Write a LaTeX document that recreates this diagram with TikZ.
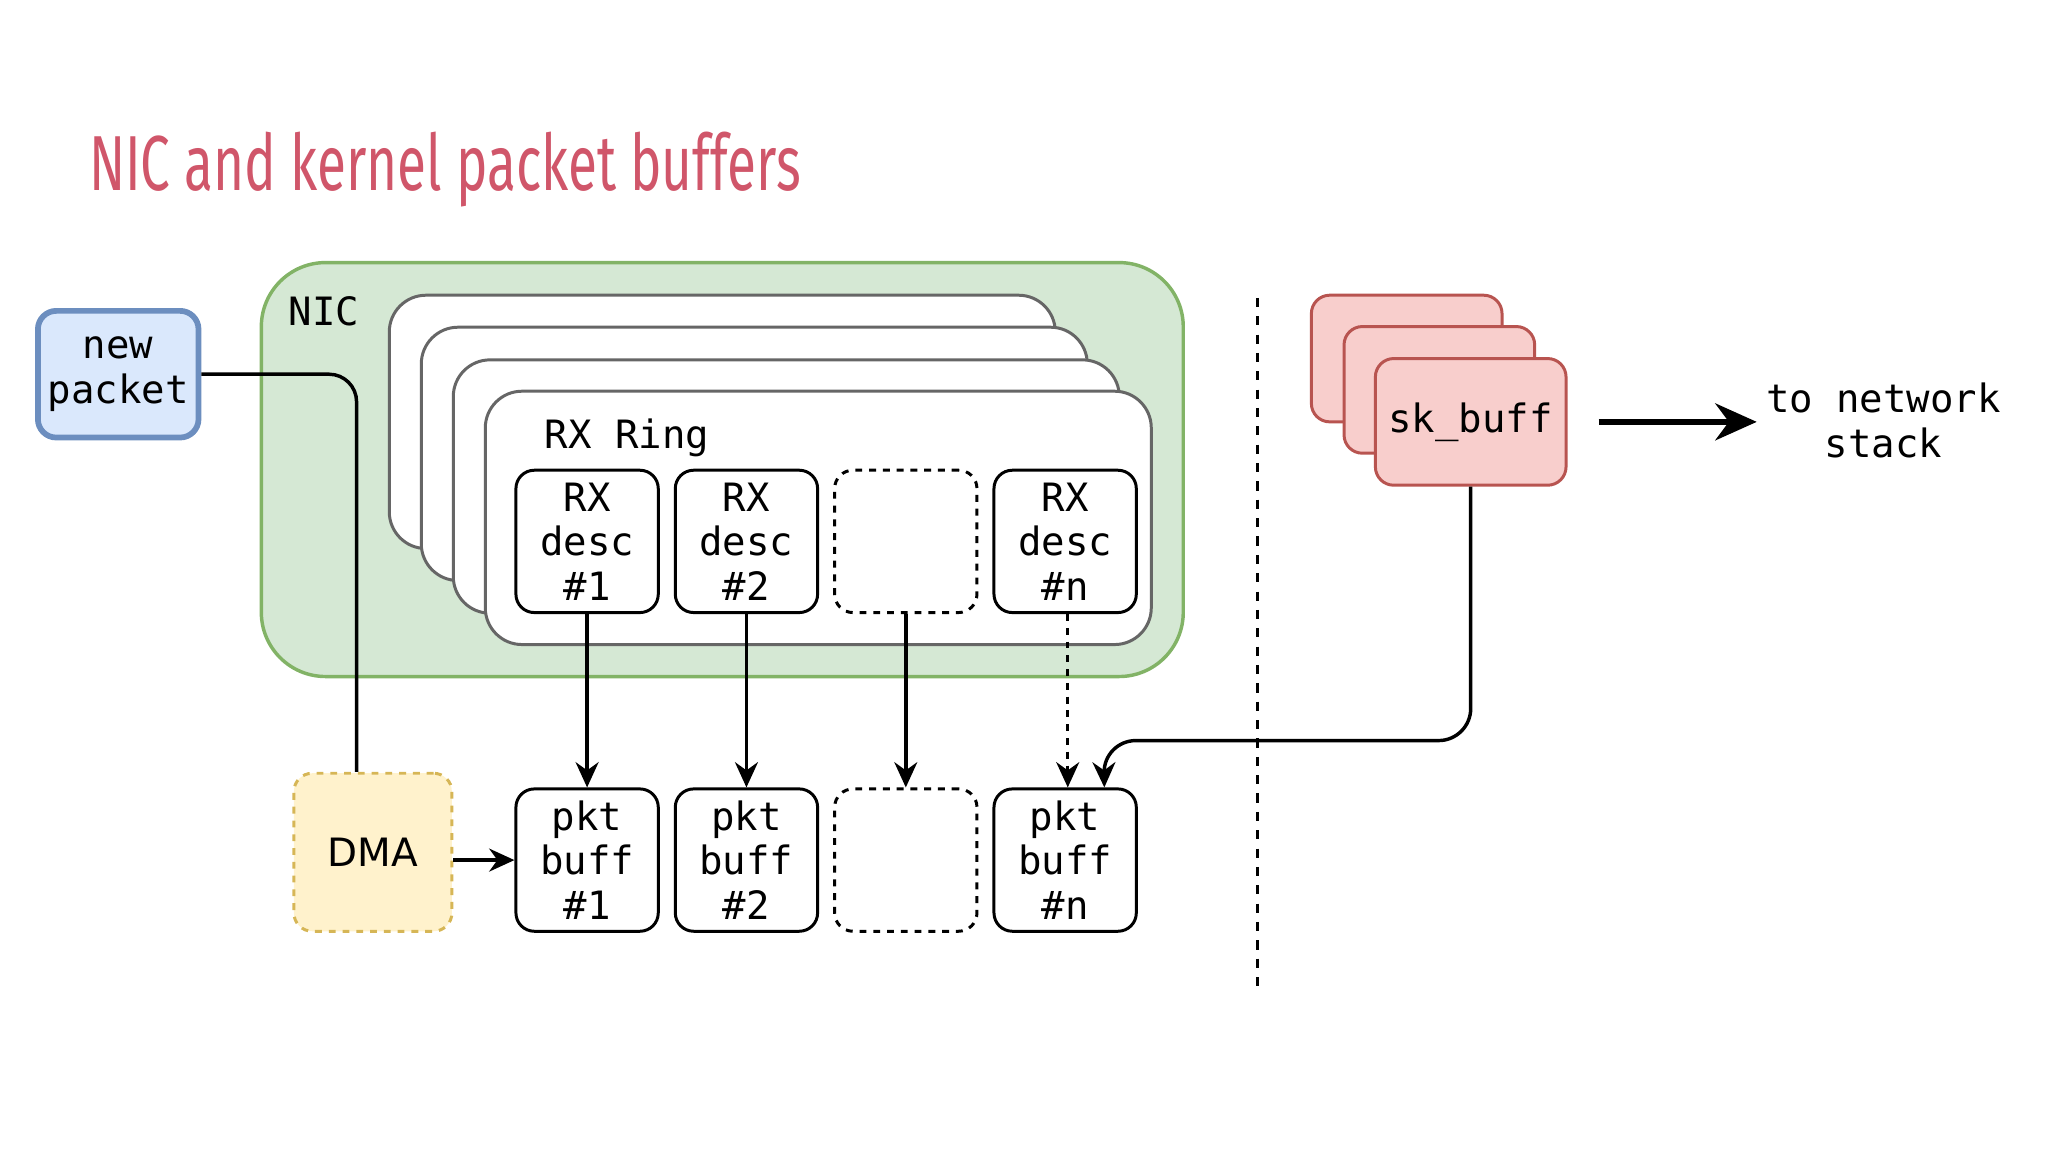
\documentclass[tikz,border=0pt]{standalone}
\usepackage{fontspec}
\setmainfont{DejaVu Sans Mono}
\newfontfamily\ttl{Fira Sans}
\newfontfamily\sans{DejaVu Sans}
\usetikzlibrary{arrows.meta}
\definecolor{ttlc}{HTML}{D0566A}
\begin{document}
\begin{tikzpicture}[x=0.02cm,y=-0.02cm,
  txt/.style={font=\fontsize{17pt}{19.4pt}\selectfont,align=center},
  box/.style={draw=black,line width=1.3pt,rounded corners=8pt,minimum width=2.18cm,minimum height=2.18cm,inner sep=0pt,fill=white,txt},
  ring/.style={draw=black!60,line width=1.3pt,rounded corners=16pt,fill=white,minimum width=10.2cm,minimum height=3.88cm,inner sep=0},
  sk/.style={draw={rgb,255:red,184;green,84;blue,80},line width=1.3pt,rounded corners=8pt,fill={rgb,255:red,248;green,206;blue,204},minimum width=2.92cm,minimum height=1.94cm,inner sep=0,txt},
  arr/.style={line width=1.5pt,-{Stealth[length=11pt,width=10pt]}}]
\useasboundingbox (0,0) rectangle (1568,882);
\node[anchor=west,text=ttlc,font=\ttl\fontsize{34pt}{36pt}\selectfont] (title) at (62,130) {\scalebox{0.68}[1]{NIC and kernel packet buffers}};
\node[draw={rgb,255:red,130;green,179;blue,102},fill={rgb,255:red,213;green,232;blue,212},line width=1.5pt,rounded corners=28pt,minimum width=14.12cm,minimum height=6.34cm] (nic) at (553,359.5) {};
\node[txt] (niclbl) at (248,238) {NIC};
\node[ring] (r1) at (553,323) {};
\node[ring] (r2) at (577.5,347.5) {};
\node[ring] (r3) at (602,372.5) {};
\node[ring] (r4) at (626.5,396.5) {};
\node[txt] (rxring) at (480,335) {RX Ring};
\node[box] (d1) at (449.5,414.5) {RX\\desc\\\#1};
\node[box] (d2) at (571.5,414.5) {RX\\desc\\\#2};
\node[box,dashed] (d3) at (693.5,414.5) {};
\node[box] (d4) at (815.5,414.5) {RX\\desc\\\#n};
\node[box] (p1) at (449.5,658.5) {pkt\\buff\\\#1};
\node[box] (p2) at (571.5,658.5) {pkt\\buff\\\#2};
\node[box,dashed] (p3) at (693.5,658.5) {};
\node[box] (p4) at (815.5,658.5) {pkt\\buff\\\#n};
\node[draw={rgb,255:red,214;green,182;blue,86},fill={rgb,255:red,255;green,242;blue,204},dashed,line width=1.3pt,rounded corners=8pt,minimum width=2.42cm,minimum height=2.42cm,font=\sans\fontsize{17pt}{19pt}\selectfont] (dma) at (285.5,652.5) {DMA};
\node[draw={rgb,255:red,108;green,142;blue,191},fill={rgb,255:red,218;green,232;blue,252},line width=2.5pt,rounded corners=8pt,minimum width=2.46cm,minimum height=1.94cm,inner sep=0,txt] (np) at (90.5,286.5) {new\\packet};
\node[sk] (s1) at (1077,274.5) {};
\node[sk] (s2) at (1102,298.5) {};
\node[sk] (s3) at (1126,323) {sk\_buff};
\node[txt] (net) at (1442,322) {to network\\stack};
\coordinate (arrs) at (1224,323);
\coordinate (arre) at (1345,323);
\coordinate (v1) at (963,228);
\coordinate (v2) at (963,762);
\draw[line width=1.5pt,rounded corners=12pt] (np.east) -| (dma.north -| 273,0);
\draw[line width=1.3pt,dash pattern=on 4pt off 4pt] (v1) -- (v2);
\draw[arr] (dma.east |- p1.west) -- (p1.west);
\draw[arr] (d1) -- (p1);
\draw[arr] (d2) -- (p2);
\draw[arr] (d3) -- (p3);
\draw[arr,dashed] ([xshift=0.04cm]d4.south) -- ([xshift=0.04cm]p4.north);
\draw[arr,rounded corners=14pt] (s3.south) |- (845,567) -- ([xshift=0.6cm]p4.north);
\draw[line width=2.8pt,-{Stealth[length=18pt,width=16pt]}] (arrs) -- (arre);
\end{tikzpicture}
\end{document}
